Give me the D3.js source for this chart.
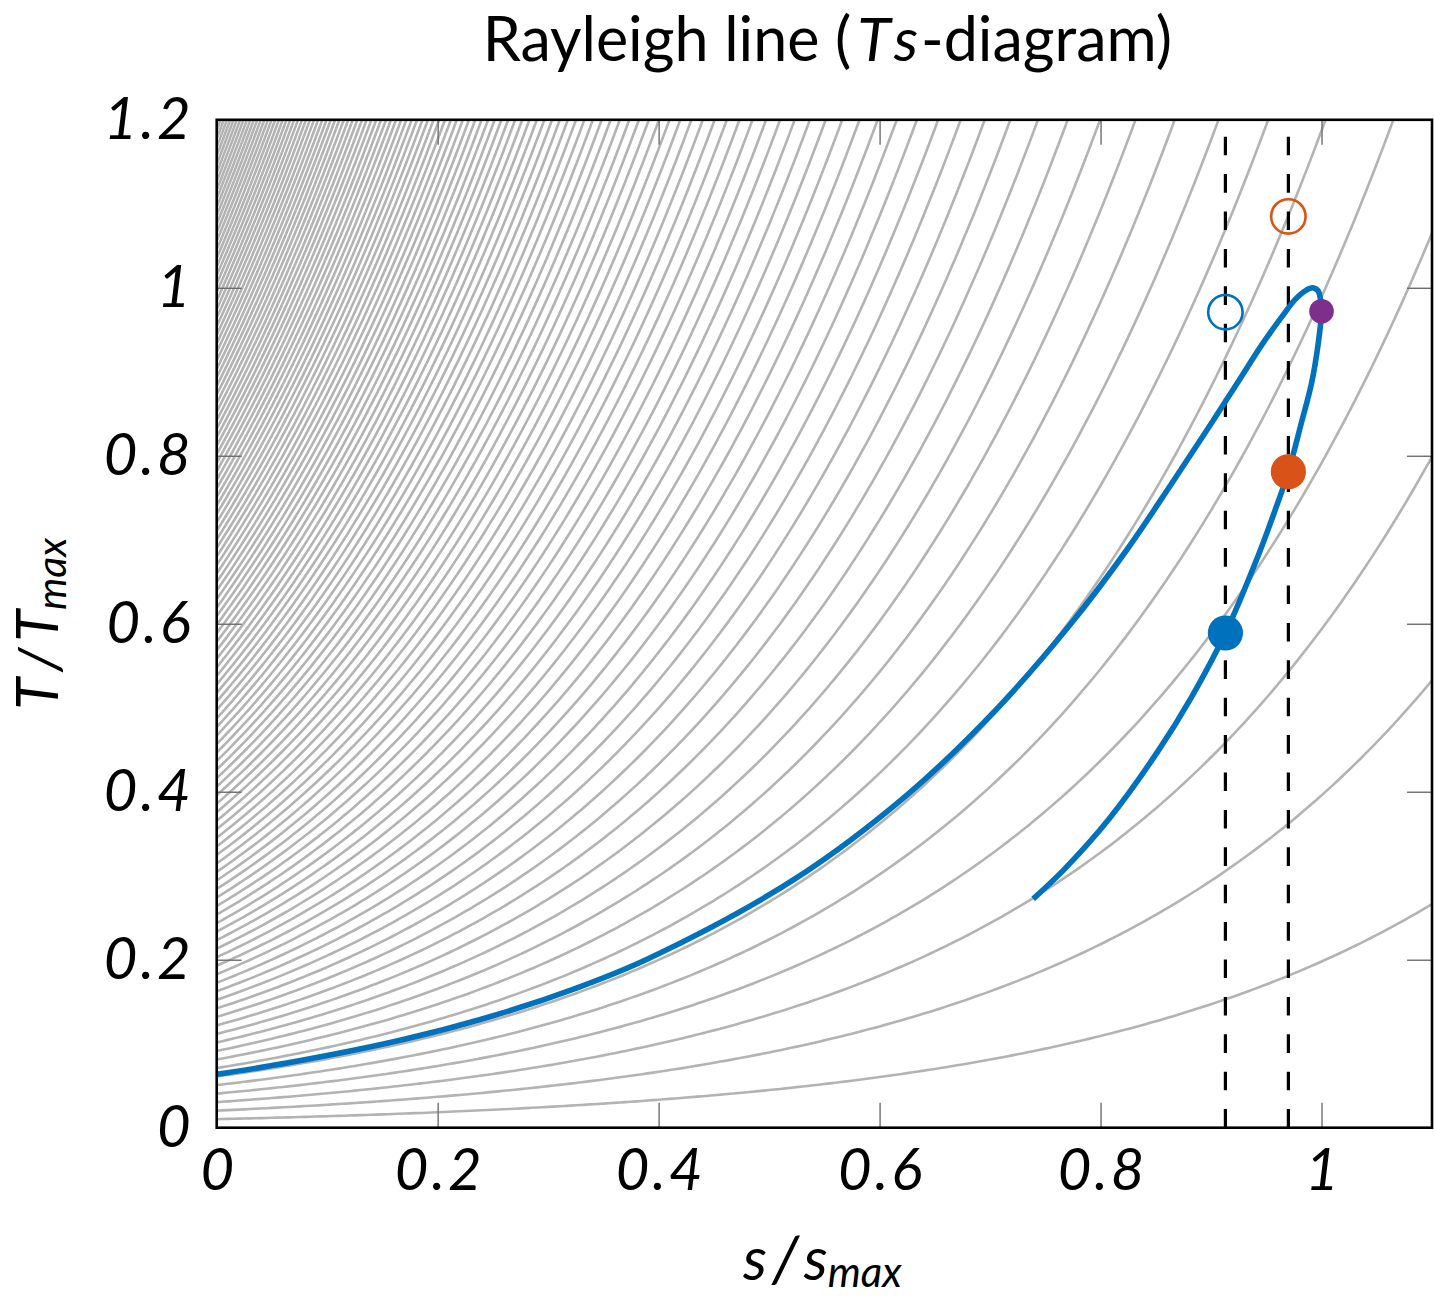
<!DOCTYPE html>
<html>
<head>
<meta charset="utf-8">
<script src="https://cdn.jsdelivr.net/npm/d3@7"></script>
<style>
  html, body { margin: 0; padding: 0; background: #fff; }
  svg { display: block; }
  text { font-family: Lato, "Open Sans", sans-serif; fill: #000; }
</style>
</head>
<body>
<svg id="chart" width="1434" height="1297"></svg>
<script>
// ---------------- data ----------------
const xTicks = [0, 0.2, 0.4, 0.6, 0.8, 1];
const xTickLabels = ["0", "0.2", "0.4", "0.6", "0.8", "1"];
const yTicks = [0, 0.2, 0.4, 0.6, 0.8, 1, 1.2];
const yTickLabels = ["0", "0.2", "0.4", "0.6", "0.8", "1", "1.2"];

// gray isobars: temperature at s = 0 of each curve, and the common growth rate
const isobarIntercepts = [
  0.01015, 0.0203, 0.03045, 0.0406, 0.05075, 0.0609, 0.07105, 0.0812, 0.09135, 0.1015,
  0.11165, 0.1218, 0.13195, 0.1421, 0.15225, 0.1624, 0.17255, 0.1827, 0.19285, 0.203,
  0.21315, 0.2233, 0.23345, 0.2436, 0.25375, 0.2639, 0.27405, 0.2842, 0.29435, 0.3045,
  0.31465, 0.3248, 0.33495, 0.3451, 0.35525, 0.3654, 0.37555, 0.3857, 0.39585, 0.406,
  0.41615, 0.4263, 0.43645, 0.4466, 0.45675, 0.4669, 0.47705, 0.4872, 0.49735, 0.5075,
  0.51765, 0.5278, 0.53795, 0.5481, 0.55825, 0.5684, 0.57855, 0.5887, 0.59885, 0.609,
  0.61915, 0.6293, 0.63945, 0.6496, 0.65975, 0.6699, 0.68005, 0.6902, 0.70035, 0.7105,
  0.72065, 0.7308, 0.74095, 0.7511, 0.76125, 0.7714, 0.78155, 0.7917, 0.80185, 0.812,
  0.82215, 0.8323, 0.84245, 0.8526, 0.86275, 0.8729, 0.88305, 0.8932, 0.90335, 0.9135,
  0.92365, 0.9338, 0.94395, 0.9541, 0.96425, 0.9744, 0.98455, 0.9947, 1.00485, 1.015,
  1.02515, 1.0353, 1.04545, 1.0556, 1.06575, 1.0759, 1.08605, 1.0962, 1.10635, 1.1165,
  1.12665, 1.1368, 1.14695, 1.1571, 1.16725, 1.1774, 1.18755, 1.1977
];
const isobarGrowth = 2.97;

// Rayleigh line (s/smax, T/Tmax)
const rayleighS = [0.000, 0.066, 0.166, 0.251, 0.325, 0.390, 0.523, 0.626, 0.707, 0.772,
  0.824, 0.865, 0.899, 0.926, 0.947, 0.964, 0.976, 0.986, 0.992, 0.997, 0.999, 1.000,
  0.997, 0.991, 0.981, 0.970, 0.957, 0.943, 0.913, 0.883, 0.852, 0.808, 0.766, 0.739];
const rayleighT = [0.0636, 0.0775, 0.1040, 0.1336, 0.1660, 0.2009, 0.2959, 0.3975, 0.4999, 0.5981,
  0.6884, 0.7682, 0.8360, 0.8912, 0.9341, 0.9653, 0.9859, 0.9970, 1.0000, 0.9961, 0.9865, 0.9722,
  0.9336, 0.8865, 0.8353, 0.7810, 0.7316, 0.6822, 0.5890, 0.5142, 0.4483, 0.3682, 0.3061, 0.2725];

// vertical dashed lines
const dashedS = [0.913, 0.970];

// markers
const filledS = [0.913, 0.970, 1.000];
const filledT = [0.589, 0.781, 0.972];
const filledColor = ["#0072BD", "#D95319", "#7E2F8E"];
const filledSize = ["big", "big", "small"];
const openS = [0.913, 0.970];
const openT = [0.971, 1.085];
const openColor = ["#0072BD", "#D95319"];

// text pieces: [text, italic, font size, x gap before, baseline shift]
const titleParts = [["Rayleigh line (", false, 61, 0, 0], ["T", true, 61, 6, 0], ["s", true, 61, 3, 0], ["-diagram)", false, 61, 3, 0]];
const xLabelParts = [["s", true, 60, 0, 0], ["/", true, 64, 5, 2], ["s", true, 60, 5, 0], ["max", true, 42, 0, 7]];
const yLabelParts = [["T", true, 58, 0, 0], ["/", true, 58, 6, 2], ["T", true, 58, 6, 0], ["max", true, 41, 0, 8]];

// ---------------- layout ----------------
const svg = d3.select("#chart");
const L = 216.7, R = 1432, T = 119.8, B = 1127.7;
const x = d3.scaleLinear().domain([0, 1.1]).range([L, R]);
const y = d3.scaleLinear().domain([0, 1.2]).range([B, T]);

svg.append("defs").append("clipPath").attr("id", "plotclip")
  .append("rect").attr("x", L).attr("y", T).attr("width", R - L).attr("height", B - T);

const plot = svg.append("g").attr("clip-path", "url(#plotclip)");

// isobars
const sGrid = d3.range(0, 1.1001, 0.005);
const line = d3.line().x(d => x(d[0])).y(d => y(d[1]));
isobarIntercepts.forEach(a => {
  const pts = [];
  for (const s of sGrid) {
    const t = a * Math.exp(isobarGrowth * s);
    pts.push([s, t]);
    if (t > 1.25) break;
  }
  plot.append("path").attr("d", line(pts))
    .attr("fill", "none").attr("stroke", "#b3b3b3").attr("stroke-width", 2.6);
});

// dashed verticals (drawn from bottom up)
dashedS.forEach(s => {
  plot.append("line")
    .attr("x1", x(s)).attr("x2", x(s))
    .attr("y1", y(0)).attr("y2", y(1.2))
    .attr("stroke", "#000").attr("stroke-width", 3.2)
    .attr("stroke-dasharray", "18.6,18.8");
});

// Rayleigh line
const rayPts = rayleighS.map((s, i) => [s, rayleighT[i]]);
plot.append("path")
  .attr("d", d3.line().x(d => x(d[0])).y(d => y(d[1])).curve(d3.curveCatmullRom.alpha(0.5))(rayPts))
  .attr("fill", "none").attr("stroke", "#0072BD").attr("stroke-width", 5.6)
  .attr("stroke-linejoin", "round");

// open markers
openS.forEach((s, i) => {
  svg.append("circle").attr("cx", x(s)).attr("cy", y(openT[i])).attr("r", 17.2)
    .attr("fill", "none").attr("stroke", openColor[i]).attr("stroke-width", 2.6);
});
// filled markers
filledS.forEach((s, i) => {
  svg.append("circle").attr("cx", x(s)).attr("cy", y(filledT[i]))
    .attr("r", filledSize[i] === "big" ? 17.6 : 12.3)
    .attr("fill", filledColor[i]);
});

// ---------------- axes ----------------
const tickStroke = "#6e6e6e";
const fs = 58;
const gx = svg.append("g").attr("transform", `translate(0,${B})`)
  .call(d3.axisBottom(x).tickValues(xTicks).tickFormat((d, i) => xTickLabels[i])
    .tickSizeInner(-25).tickSizeOuter(0).tickPadding(21));
const gy = svg.append("g").attr("transform", `translate(${L},0)`)
  .call(d3.axisLeft(y).tickValues(yTicks).tickFormat((d, i) => yTickLabels[i])
    .tickSizeInner(-25).tickSizeOuter(0).tickPadding(23));
const gxt = svg.append("g").attr("transform", `translate(0,${T})`)
  .call(d3.axisTop(x).tickValues(xTicks).tickFormat("").tickSizeInner(-25).tickSizeOuter(0));
const gyr = svg.append("g").attr("transform", `translate(${R},0)`)
  .call(d3.axisRight(y).tickValues(yTicks).tickFormat("").tickSizeInner(-25).tickSizeOuter(0));

[gx, gy, gxt, gyr].forEach(g => {
  g.select(".domain").remove();
  g.selectAll(".tick line").attr("stroke", tickStroke).attr("stroke-width", 1.4);
  g.selectAll(".tick text")
    .attr("font-family", "Lato, 'Open Sans', sans-serif")
    .attr("font-style", "italic").attr("font-size", fs)
    .attr("letter-spacing", 3).attr("fill", "#000");
});
gx.selectAll(".tick text").attr("dx", 1.5);

// frame
svg.append("rect").attr("x", L).attr("y", T).attr("width", R - L).attr("height", B - T)
  .attr("fill", "none").attr("stroke", "#000").attr("stroke-width", 2.6);

// ---------------- labels (pieces laid out one after another, centred) ----------------
function composite(parent, parts, cx, baseline) {
  const g = parent.append("g");
  const nodes = parts.map(p => g.append("text")
    .attr("font-size", p[2]).attr("font-style", p[1] ? "italic" : "normal")
    .attr("y", baseline + p[4]).text(p[0]));
  const widths = nodes.map(n => n.node().getComputedTextLength());
  const total = d3.sum(widths) + d3.sum(parts, p => p[3]);
  let cur = cx - total / 2;
  nodes.forEach((n, i) => {
    cur += parts[i][3];
    n.attr("x", cur);
    cur += widths[i];
  });
  return g;
}

composite(svg, titleParts, (L + R) / 2 + 3, 61);
composite(svg, xLabelParts, (L + R) / 2 - 2, 1280);
const ylG = svg.append("g").attr("transform", `translate(58,${(T + B) / 2}) rotate(-90)`);
composite(ylG, yLabelParts, 0, 0);
</script>
</body>
</html>
